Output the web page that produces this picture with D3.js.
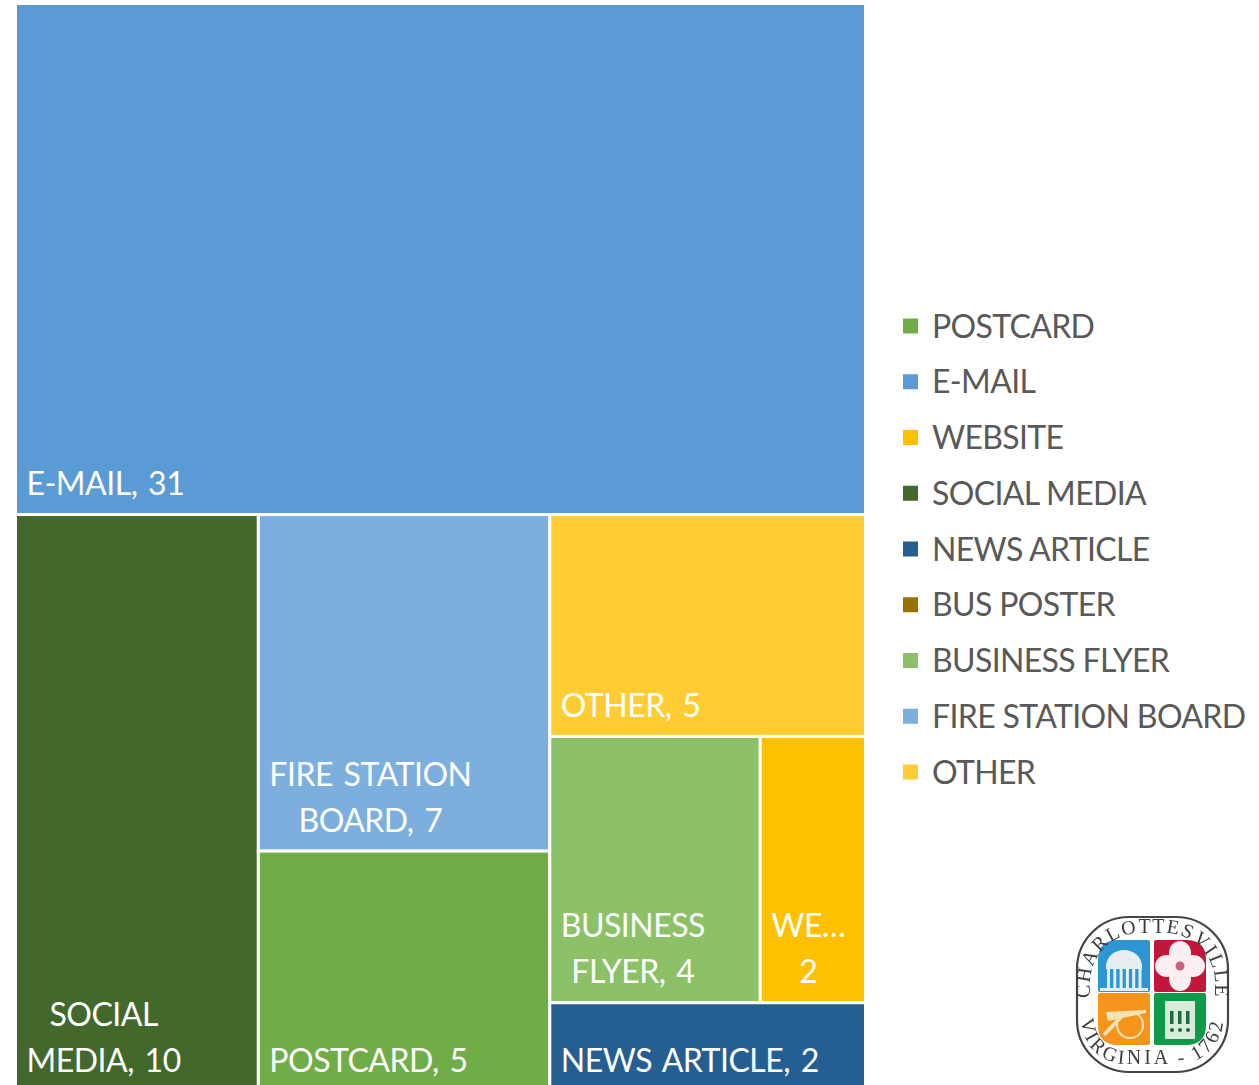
<!DOCTYPE html>
<html>
<head>
<meta charset="utf-8">
<script src="https://cdn.jsdelivr.net/npm/d3@7"></script>
<style>
    html, body { margin: 0; padding: 0; background: #fff; overflow: hidden; }
    svg { display: block; font-family: Lato, "Open Sans", sans-serif; }
</style>
</head>
<body>
<div id="chart"></div>
<script>
'use strict';

// Legend order, including the empty BUS POSTER entry
const legendNames = ['POSTCARD', 'E-MAIL', 'WEBSITE', 'SOCIAL MEDIA', 'NEWS ARTICLE', 'BUS POSTER', 'BUSINESS FLYER', 'FIRE STATION BOARD', 'OTHER'];
const legendColors = ['#70ad47', '#5b9bd5', '#ffc000', '#43682b', '#255e91', '#997300', '#8cc168', '#7cafdd', '#ffcd33'];
const legendValues = [5, 31, 2, 10, 2, 0, 4, 7, 5];

// Wrapped text of each tile
const tileLabels = {
    'E-MAIL': ['E-MAIL, 31'],
    'SOCIAL MEDIA': ['SOCIAL', 'MEDIA, 10'],
    'FIRE STATION BOARD': ['FIRE STATION', 'BOARD, 7'],
    'POSTCARD': ['POSTCARD, 5'],
    'OTHER': ['OTHER, 5'],
    'BUSINESS FLYER': ['BUSINESS', 'FLYER, 4'],
    'WEBSITE': ['WE…', '2'],
    'NEWS ARTICLE': ['NEWS ARTICLE, 2']
};

const w = 1259;
const h = 1085;

const svg = d3.select('#chart')
    .append('svg')
    .attr('width', w)
    .attr('height', h);

const color = d3.scaleOrdinal().domain(legendNames).range(legendColors);
const valueOf = name => legendValues[legendNames.indexOf(name)];
const leaf = name => ({name: name, value: valueOf(name)});

// Nesting follows how the tiles are split in the picture
const tree = {children: [
    leaf('E-MAIL'),
    {children: [
        leaf('SOCIAL MEDIA'),
        {children: [leaf('FIRE STATION BOARD'), leaf('POSTCARD')]},
        {children: [
            leaf('OTHER'),
            {children: [leaf('BUSINESS FLYER'), leaf('WEBSITE')]},
            leaf('NEWS ARTICLE')
        ]}
    ]}
]};

const root = d3.hierarchy(tree).sum(d => d.value || 0);

// Bottom of the map runs past the edge of the page
d3.treemap()
    .size([850, 1088])
    .tile((node, x0, y0, x1, y1) => {
        (node.depth & 1 ? d3.treemapDice : d3.treemapSlice)(node, x0, y0, x1, y1);
    })(root);

const tiles = svg.append('g')
    .attr('transform', 'translate(15.5,3.5)')
    .selectAll('g')
    .data(root.leaves())
    .join('g');

tiles.append('rect')
    .attr('x', d => d.x0)
    .attr('y', d => d.y0)
    .attr('width', d => d.x1 - d.x0)
    .attr('height', d => d.y1 - d.y0)
    .attr('fill', d => color(d.data.name))
    .attr('stroke', '#fff')
    .attr('stroke-width', 3);

const labelSize = 32;
const labelSpacing = -0.65;
const lineGap = 46;

tiles.each(function(d) {
    const lines = tileLabels[d.data.name];
    const g = d3.select(this).append('g');
    const texts = g.selectAll('text')
        .data(lines)
        .join('text')
        .attr('fill', '#fff')
        .attr('font-size', labelSize)
        .attr('letter-spacing', -0.5)
        .attr('word-spacing', 3)
        .style('font-variant-numeric', 'tabular-nums')
        .attr('text-anchor', 'middle')
        .attr('y', (t, i) => d.y1 - 19.5 - (lines.length - 1 - i) * lineGap)
        .text(t => t);
    // Lines are centred on each other, the block sits left in the tile
    const widest = d3.max(texts.nodes(), n => n.getComputedTextLength());
    texts.attr('x', d.x0 + 11 + widest / 2);
});

// Legend
const legendY = d3.scalePoint().domain(legendNames).range([326, 772]);

const legend = svg.append('g')
    .selectAll('g')
    .data(legendNames)
    .join('g');

legend.append('rect')
    .attr('x', 903)
    .attr('y', d => legendY(d) - 7.5)
    .attr('width', 15)
    .attr('height', 15)
    .attr('fill', d => color(d));

legend.append('text')
    .attr('x', 932)
    .attr('y', d => legendY(d) + 11.5)
    .attr('font-size', labelSize)
    .attr('letter-spacing', labelSpacing)
    .attr('fill', '#595959')
    .text(d => d);

// City seal
function drawSeal(cx, cy) {
    svg.append('defs').append('filter')
        .attr('id', 'sealBlur')
        .append('feGaussianBlur')
        .attr('stdDeviation', 0.5);

    const seal = svg.append('g')
        .attr('transform', `translate(${cx},${cy})`)
        .attr('filter', 'url(#sealBlur)');

    seal.append('rect')
        .attr('x', -75).attr('y', -78)
        .attr('width', 151).attr('height', 155)
        .attr('rx', 52)
        .attr('fill', '#fff')
        .attr('stroke', '#444')
        .attr('stroke-width', 2.2);

    // Quadrants
    const quads = [
        {x: -54, y: -55, fill: '#2f97d3', r: [20, 2, 2, 2]},
        {x: 2, y: -55, fill: '#c2133a', r: [2, 20, 2, 2]},
        {x: -54, y: -2, fill: '#f7941d', r: [2, 2, 2, 20]},
        {x: 2, y: -2, fill: '#0d9b48', r: [2, 2, 20, 2]}
    ];
    quads.forEach(q => {
        const [a, b, c, e] = q.r;
        const s = 52;
        seal.append('path')
            .attr('d', `M${q.x + a},${q.y}H${q.x + s - b}Q${q.x + s},${q.y} ${q.x + s},${q.y + b}`
                + `V${q.y + s - c}Q${q.x + s},${q.y + s} ${q.x + s - c},${q.y + s}`
                + `H${q.x + e}Q${q.x},${q.y + s} ${q.x},${q.y + s - e}V${q.y + a}Q${q.x},${q.y} ${q.x + a},${q.y}Z`)
            .attr('fill', q.fill);
    });

    // Rotunda
    const rot = seal.append('g').attr('fill', '#e6eef2');
    rot.append('path').attr('d', 'M-46,-29 A18,16 0 0 1 -10,-29 Z');
    rot.append('rect').attr('x', -46).attr('y', -29).attr('width', 36).attr('height', 3);
    d3.range(6).forEach(i => {
        rot.append('rect').attr('x', -45 + i * 6.3).attr('y', -26).attr('width', 3).attr('height', 20);
    });
    rot.append('rect').attr('x', -52).attr('y', -7).attr('width', 48).attr('height', 3);

    // Dogwood flower
    const flower = seal.append('g').attr('transform', 'translate(28,-29)');
    d3.range(4).forEach(i => {
        flower.append('ellipse')
            .attr('cy', -13)
            .attr('rx', 11)
            .attr('ry', 12)
            .attr('transform', `rotate(${i * 90})`)
            .attr('fill', '#fbeef0');
    });
    flower.append('circle').attr('r', 4.5).attr('fill', '#c9607c');

    // Cannon
    const cannon = seal.append('g').attr('transform', 'translate(-28,24)');
    cannon.append('circle').attr('cx', 6).attr('cy', 6).attr('r', 13)
        .attr('fill', 'none').attr('stroke', '#f6e3b5').attr('stroke-width', 2);
    cannon.append('path').attr('d', 'M-18,-7 L22,-9 L22,-6 L-16,2 Z').attr('fill', '#f6e3b5');
    cannon.append('path').attr('d', 'M-3,-2 L-20,16').attr('stroke', '#f6e3b5').attr('stroke-width', 4);

    // Book
    const book = seal.append('g').attr('transform', 'translate(28,24)');
    book.append('rect').attr('x', -15).attr('y', -18).attr('width', 30).attr('height', 38).attr('fill', '#d7ecd9');
    d3.range(3).forEach(i => {
        book.append('rect').attr('x', -10 + i * 8).attr('y', -8).attr('width', 3.5).attr('height', 13).attr('fill', '#1c6b3c');
        book.append('circle').attr('cx', -8 + i * 8).attr('cy', 11).attr('r', 2).attr('fill', '#1c6b3c');
    });

    // Lettering runs along the rounded edge
    const defs = seal.append('defs');
    defs.append('path').attr('id', 'sealTop')
        .attr('d', 'M-62,14 V-12 A50,50 0 0 1 -12,-62 H13 A50,50 0 0 1 63,-12 V14');
    defs.append('path').attr('id', 'sealBottom')
        .attr('d', 'M-71,-4 V24 A45,45 0 0 0 -26,69 H26 A45,45 0 0 0 71,24 V-4');

    [['#sealTop', 'CHARLOTTESVILLE', 1.6], ['#sealBottom', 'VIRGINIA - 1762', 3]].forEach(t => {
        seal.append('text')
            .attr('font-family', '"Liberation Serif", serif')
            .attr('font-size', 20)
            .attr('letter-spacing', t[2])
            .attr('fill', '#3d3d3d')
            .attr('text-anchor', 'middle')
            .append('textPath')
            .attr('href', t[0])
            .attr('startOffset', '50%')
            .text(t[1]);
    });
}

drawSeal(1152, 995);
</script>
</body>
</html>
